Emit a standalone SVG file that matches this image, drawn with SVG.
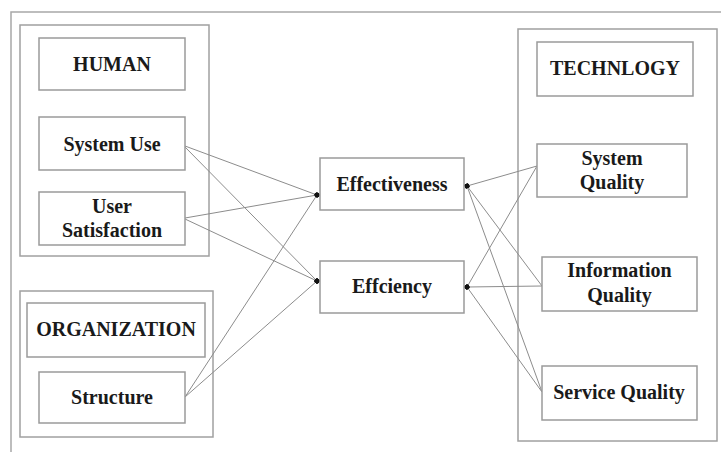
<svg xmlns="http://www.w3.org/2000/svg" width="721" height="452" viewBox="0 0 721 452">
<style>
.grp{fill:none;stroke:#a0a0a0;stroke-width:1.5}
.box{fill:#fff;stroke:#9a9a9a;stroke-width:1.5}
.t{font-family:"Liberation Serif","Times New Roman",serif;font-weight:bold;font-size:20px;fill:#1a1a1a;text-anchor:middle}
.c{fill:none;stroke:#8c8c8c;stroke-width:1}
</style>
<defs>
<marker id="dot" viewBox="0 0 6 6" refX="3" refY="3" markerWidth="5" markerHeight="5" markerUnits="userSpaceOnUse" orient="auto">
<ellipse cx="3" cy="3" rx="3" ry="3" fill="#111"/>
</marker>
</defs>
<rect width="721" height="452" fill="#fff"/>
<g id="frame"><path d="M11 452 V12 H721" fill="none" stroke="#a8a8a8" stroke-width="1.5"/></g>

<g id="human-group"><rect class="grp" x="20" y="25" width="189" height="231"/></g>
<g id="organization-group"><rect class="grp" x="20" y="291" width="193" height="146"/></g>
<g id="technology-group"><rect class="grp" x="518" y="29" width="199" height="412"/></g>

<g id="connectors">
<line class="c" x1="185" y1="146" x2="317" y2="195" marker-end="url(#dot)"/>
<line class="c" x1="185" y1="147" x2="317" y2="281" marker-end="url(#dot)"/>
<line class="c" x1="185" y1="218" x2="317" y2="195" marker-end="url(#dot)"/>
<line class="c" x1="185" y1="219" x2="317" y2="281" marker-end="url(#dot)"/>
<line class="c" x1="185" y1="397" x2="317" y2="195" marker-end="url(#dot)"/>
<line class="c" x1="185" y1="397" x2="317" y2="281" marker-end="url(#dot)"/>
<line class="c" x1="537" y1="166" x2="467" y2="186" marker-end="url(#dot)"/>
<line class="c" x1="542" y1="286" x2="467" y2="186" marker-end="url(#dot)"/>
<line class="c" x1="542" y1="392" x2="467" y2="186" marker-end="url(#dot)"/>
<line class="c" x1="537" y1="166" x2="467" y2="287" marker-end="url(#dot)"/>
<line class="c" x1="542" y1="286" x2="467" y2="287" marker-end="url(#dot)"/>
<line class="c" x1="542" y1="392" x2="467" y2="287" marker-end="url(#dot)"/>
</g>

<g id="human"><rect class="box" x="39" y="38" width="146" height="52"/><text class="t" x="112" y="71">HUMAN</text></g>
<g id="system-use"><rect class="box" x="39" y="117" width="146" height="53"/><text class="t" x="112" y="151">System Use</text></g>
<g id="user-satisfaction"><rect class="box" x="39" y="192" width="146" height="53"/><text class="t" x="112" y="213">User</text><text class="t" x="112" y="237">Satisfaction</text></g>
<g id="organization"><rect class="box" x="27" y="303" width="178" height="54"/><text class="t" x="116" y="336">ORGANIZATION</text></g>
<g id="structure"><rect class="box" x="39" y="372" width="146" height="51"/><text class="t" x="112" y="404">Structure</text></g>

<g id="effectiveness"><rect class="box" x="320" y="158" width="144" height="52"/><text class="t" x="392" y="191">Effectiveness</text></g>
<g id="effciency"><rect class="box" x="320" y="261" width="144" height="52"/><text class="t" x="392" y="293">Effciency</text></g>

<g id="technlogy"><rect class="box" x="537" y="42" width="156" height="54"/><text class="t" x="615" y="75">TECHNLOGY</text></g>
<g id="system-quality"><rect class="box" x="537" y="144" width="150" height="53"/><text class="t" x="612" y="165">System</text><text class="t" x="612" y="189">Quality</text></g>
<g id="information-quality"><rect class="box" x="542" y="257" width="155" height="54"/><text class="t" x="619.5" y="277">Information</text><text class="t" x="619.5" y="302">Quality</text></g>
<g id="service-quality"><rect class="box" x="542" y="366" width="155" height="54"/><text class="t" x="619" y="399">Service Quality</text></g>
</svg>
